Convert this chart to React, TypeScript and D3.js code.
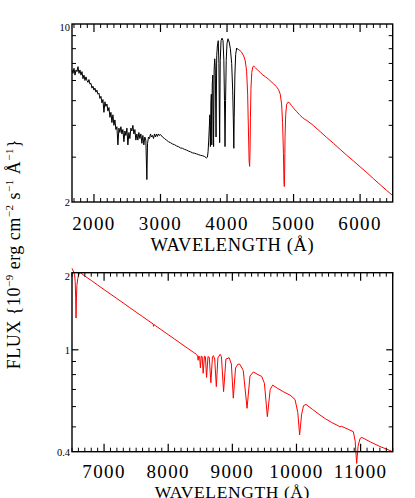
import React from "react";
import * as d3 from "d3";

// ---------- DATA ----------
// Observed UV/blue spectrum (black): [wavelength Å, flux 1e-9]
const observedSpectrum: [number, number][] = [
  [1670, 6.6], [1685, 6.4], [1700, 6.7], [1715, 6.3], [1730, 6.6], [1745, 6.5],
  [1760, 6.8], [1775, 6.4], [1790, 6.6], [1805, 6.3], [1820, 6.5], [1835, 6.1],
  [1850, 6.3], [1865, 6.0], [1880, 6.2], [1895, 6.0], [1910, 5.9], [1925, 6.05],
  [1940, 5.8], [1955, 5.85], [1970, 5.6], [1985, 5.7], [2000, 5.5], [2015, 5.6],
  [2030, 5.4], [2045, 5.5], [2060, 5.3], [2075, 5.35], [2090, 5.1], [2105, 5.2],
  [2120, 4.9], [2135, 5.05], [2150, 4.5], [2165, 4.95], [2180, 4.75], [2195, 4.85],
  [2210, 4.55], [2225, 4.7], [2240, 4.3], [2255, 4.5], [2270, 4.1], [2285, 4.4],
  [2300, 4.0], [2315, 4.2], [2330, 3.85], [2345, 3.95], [2360, 3.35], [2375, 3.9],
  [2390, 3.75], [2405, 3.95], [2420, 3.7], [2435, 3.85], [2450, 3.45], [2465, 3.8],
  [2480, 3.65], [2495, 3.9], [2510, 3.35], [2525, 3.75], [2540, 3.55], [2555, 3.9],
  [2570, 3.8], [2585, 4.0], [2600, 3.7], [2615, 3.85], [2630, 3.5], [2645, 3.7],
  [2660, 3.5], [2675, 3.75], [2690, 3.55], [2705, 3.7], [2720, 3.4], [2735, 3.65],
  [2750, 3.35], [2765, 3.6], [2780, 3.5], [2795, 2.45], [2805, 3.4], [2820, 3.6],
  [2835, 3.55], [2850, 3.7], [2865, 3.6], [2880, 3.65], [2895, 3.55], [2910, 3.7],
  [2925, 3.6], [2940, 3.7], [2955, 3.62], [2970, 3.7], [2985, 3.65], [3000, 3.68],
  [3030, 3.6], [3060, 3.55], [3090, 3.5], [3120, 3.45], [3150, 3.42], [3180, 3.38],
  [3210, 3.36], [3240, 3.32], [3270, 3.3], [3300, 3.26], [3330, 3.25], [3360, 3.22],
  [3390, 3.2], [3420, 3.17], [3450, 3.15], [3480, 3.12], [3510, 3.11], [3540, 3.09],
  [3570, 3.07], [3600, 3.05], [3630, 3.04], [3660, 3.02], [3690, 2.98], [3705, 3.0],
  [3715, 3.15], [3725, 3.5], [3735, 4.0], [3742, 4.4], [3750, 3.3], [3758, 4.9],
  [3764, 5.3], [3771, 3.35], [3778, 5.8], [3786, 6.3], [3798, 3.3], [3806, 6.6],
  [3815, 7.3], [3823, 6.8], [3835, 3.6], [3845, 7.5], [3855, 8.2], [3868, 8.6],
  [3878, 7.0], [3889, 3.42], [3898, 7.2], [3910, 8.6], [3925, 8.8], [3940, 8.6],
  [3952, 7.2], [3962, 5.0], [3970, 3.3], [3978, 5.0], [3988, 7.2], [4000, 8.4],
  [4015, 8.75], [4032, 8.5], [4050, 8.0], [4070, 7.0], [4085, 5.5], [4095, 4.2],
  [4102, 3.25], [4108, 4.3], [4118, 6.3], [4130, 7.6], [4145, 8.05], [4160, 7.95],
];

// Model spectrum, optical part (red, top panel)
const modelOptical: [number, number][] = [
  [4160, 7.95], [4180, 7.92], [4215, 7.78], [4250, 7.5], [4275, 7.15], [4295, 6.5],
  [4310, 5.3], [4322, 3.8], [4332, 2.9], [4340, 2.76], [4346, 3.2], [4352, 4.3],
  [4360, 5.6], [4372, 6.45], [4388, 6.78], [4400, 6.84], [4430, 6.72], [4470, 6.55],
  [4500, 6.45], [4540, 6.3], [4580, 6.2], [4620, 6.08], [4660, 5.95], [4700, 5.82],
  [4740, 5.68], [4775, 5.52], [4800, 5.3], [4820, 4.85], [4835, 4.1], [4848, 3.1],
  [4856, 2.4], [4861, 2.3], [4866, 2.6], [4872, 3.6], [4882, 4.4], [4895, 4.82],
  [4915, 4.93], [4935, 4.92], [4970, 4.78], [5010, 4.64], [5050, 4.52], [5090, 4.4],
  [5130, 4.3], [5170, 4.22], [5200, 4.18], [5300, 3.99], [5400, 3.78], [5500, 3.58],
  [5600, 3.4], [5700, 3.22], [5800, 3.05], [5900, 2.9], [6000, 2.75], [6100, 2.61],
  [6200, 2.47], [6300, 2.34], [6400, 2.22], [6490, 2.12],
];

// Model spectrum, red / near-IR part (red, bottom panel)
const modelNearIR: [number, number][] = [
  [6500, 2.08], [6520, 2.03], [6540, 1.96], [6550, 1.85], [6557, 1.6], [6563, 1.33],
  [6568, 1.55], [6576, 1.78], [6590, 1.9], [6610, 1.98], [6630, 2.0], [6700, 1.94],
  [6800, 1.866], [6900, 1.79], [7000, 1.718], [7100, 1.65], [7200, 1.585], [7300, 1.522],
  [7400, 1.461], [7500, 1.403], [7600, 1.348], [7700, 1.294], [7765, 1.262], [7772, 1.235],
  [7780, 1.255], [7800, 1.243], [7900, 1.194], [8000, 1.146], [8100, 1.101], [8200, 1.057],
  [8300, 1.015], [8400, 0.975], [8440, 0.96], [8458, 0.945], [8467, 0.91], [8476, 0.945],
  [8490, 0.94], [8502, 0.85], [8515, 0.945], [8530, 0.94], [8545, 0.81], [8565, 0.945],
  [8580, 0.94], [8598, 0.78], [8620, 0.94], [8640, 0.935], [8665, 0.744], [8690, 0.94],
  [8705, 0.948], [8725, 0.92], [8750, 0.718], [8775, 0.93], [8810, 0.96], [8830, 0.94],
  [8863, 0.686], [8900, 0.92], [8950, 0.931], [8985, 0.88], [9015, 0.647], [9050, 0.85],
  [9090, 0.88], [9119, 0.877], [9170, 0.83], [9229, 0.591], [9275, 0.79], [9327, 0.819],
  [9400, 0.8], [9458, 0.787], [9500, 0.74], [9546, 0.548], [9590, 0.7], [9629, 0.728],
  [9700, 0.708], [9800, 0.685], [9900, 0.665], [9977, 0.64], [10020, 0.57], [10049, 0.465],
  [10080, 0.56], [10110, 0.605], [10148, 0.612], [10250, 0.585], [10350, 0.56], [10450, 0.538],
  [10550, 0.52], [10650, 0.505], [10678, 0.5], [10700, 0.503], [10800, 0.49], [10886, 0.479],
  [10915, 0.44], [10938, 0.36], [10960, 0.42], [10990, 0.45], [11017, 0.455], [11150, 0.437],
  [11302, 0.419], [11400, 0.41], [11500, 0.4],
];

const topXDomain = [1670, 6490];
const topYDomain = [2, 10];
const topXMajor = [2000, 3000, 4000, 5000, 6000];
const topYLabels = [10, 2];
const topYMinor = [3, 4, 5, 6, 7, 8, 9];

const botXDomain = [6500, 11500];
const botYDomain = [0.4, 2];
const botXMajor = [7000, 8000, 9000, 10000, 11000];
const botYLabels = [2, 1, 0.4];
const botYMinor = [0.5, 0.6, 0.7, 0.8, 0.9];
const botYMajorInner = [1];

const xTitle = "WAVELENGTH (Å)";

// ---------- LAYOUT ----------
const W = 415;
const H = 498;
const L = 72;
const R = 392.7;
const FONT = "'Liberation Serif', 'Times New Roman', serif";

type PanelProps = {
  top: number;
  bottom: number;
  tickOffset: number;
  titleOffset: number;
  titleSize: number;
  xDomain: number[];
  yDomain: number[];
  xMajor: number[];
  yLabels: number[];
  yMinor: number[];
  yMajorInner: number[];
  series: { data: [number, number][]; color: string }[];
};

function Panel(p: PanelProps) {
  const x = d3.scaleLinear().domain(p.xDomain).range([L, R]);
  const y = d3.scaleLog().domain(p.yDomain).range([p.bottom, p.top]);
  const line = d3
    .line<[number, number]>()
    .x((d) => x(d[0]))
    .y((d) => y(d[1]));

  const minorX = d3
    .range(Math.ceil(p.xDomain[0] / 100) * 100, p.xDomain[1] + 1, 100)
    .filter((v) => !p.xMajor.includes(v));

  const majLen = 8;
  const minLen = 4;
  const tickLabelBaseline = p.bottom + p.tickOffset;
  const titleBaseline = p.bottom + p.titleOffset;

  return (
    <g>
      {p.series.map((s, i) => (
        <path
          key={i}
          d={line(s.data) || ""}
          fill="none"
          stroke={s.color}
          strokeWidth={1}
          strokeLinejoin="round"
        />
      ))}
      <rect
        x={L}
        y={p.top}
        width={R - L}
        height={p.bottom - p.top}
        fill="none"
        stroke="#000"
        strokeWidth={1.4}
      />
      {p.xMajor.map((v) => (
        <g key={"xm" + v}>
          <line x1={x(v)} x2={x(v)} y1={p.bottom} y2={p.bottom - majLen} stroke="#000" strokeWidth={1.2} />
          <line x1={x(v)} x2={x(v)} y1={p.top} y2={p.top + majLen} stroke="#000" strokeWidth={1.2} />
          <text
            x={x(v)}
            y={tickLabelBaseline}
            textAnchor="middle"
            fontFamily={FONT}
            fontSize={19}
            letterSpacing={1.4}
            fill="#000"
          >
            {String(v)}
          </text>
        </g>
      ))}
      {minorX.map((v) => (
        <g key={"xn" + v}>
          <line x1={x(v)} x2={x(v)} y1={p.bottom} y2={p.bottom - minLen} stroke="#000" strokeWidth={1} />
          <line x1={x(v)} x2={x(v)} y1={p.top} y2={p.top + minLen} stroke="#000" strokeWidth={1} />
        </g>
      ))}
      {p.yMinor.map((v) => (
        <g key={"yn" + v}>
          <line x1={L} x2={L + minLen} y1={y(v)} y2={y(v)} stroke="#000" strokeWidth={1} />
          <line x1={R} x2={R - minLen} y1={y(v)} y2={y(v)} stroke="#000" strokeWidth={1} />
        </g>
      ))}
      {p.yMajorInner.map((v) => (
        <g key={"yM" + v}>
          <line x1={L} x2={L + 6.5} y1={y(v)} y2={y(v)} stroke="#000" strokeWidth={1.2} />
          <line x1={R} x2={R - 6.5} y1={y(v)} y2={y(v)} stroke="#000" strokeWidth={1.2} />
        </g>
      ))}
      {p.yLabels.map((v) => {
        const yy = y(v);
        const base = yy >= p.top + 1 ? yy + 3.8 : yy + 7;
        return (
          <text
            key={"yl" + v}
            x={70}
            y={base}
            textAnchor="end"
            fontFamily={FONT}
            fontSize={10.5}
            fill="#000"
          >
            {String(v)}
          </text>
        );
      })}
      <text
        x={(L + R) / 2}
        y={titleBaseline}
        textAnchor="middle"
        fontFamily={FONT}
        fontSize={p.titleSize}
        letterSpacing={0.6}
        fill="#000"
      >
        {xTitle}
      </text>
    </g>
  );
}

export default function App() {
  const supSize = 11;
  return (
    <svg
      width={W}
      height={H}
      viewBox={`0 0 ${W} ${H}`}
      style={{ position: "absolute", left: 0, top: 0, display: "block", background: "#fff" }}
    >
      <rect x={0} y={0} width={W} height={H} fill="#fff" />
      <Panel
        top={24}
        bottom={202}
        tickOffset={27.5}
        titleOffset={48.5}
        titleSize={18.5}
        xDomain={topXDomain}
        yDomain={topYDomain}
        xMajor={topXMajor}
        yLabels={topYLabels}
        yMinor={topYMinor}
        yMajorInner={[]}
        series={[
          { data: observedSpectrum, color: "#000" },
          { data: modelOptical, color: "#ff0000" },
        ]}
      />
      <Panel
        top={272.7}
        bottom={451.7}
        tickOffset={26.3}
        titleOffset={46.5}
        titleSize={17.5}
        xDomain={botXDomain}
        yDomain={botYDomain}
        xMajor={botXMajor}
        yLabels={botYLabels}
        yMinor={botYMinor}
        yMajorInner={botYMajorInner}
        series={[{ data: modelNearIR, color: "#ff0000" }]}
      />
      <text
        transform="translate(20,254) rotate(-90)"
        textAnchor="middle"
        fontFamily={FONT}
        fontSize={18}
        letterSpacing={0.5}
        fill="#000"
      >
        <tspan>FLUX {"{"}10</tspan>
        <tspan fontSize={supSize} dy={-7}>−9</tspan>
        <tspan dy={7}> erg cm</tspan>
        <tspan fontSize={supSize} dy={-7}>−2</tspan>
        <tspan dy={7}> s</tspan>
        <tspan fontSize={supSize} dy={-7}>−1</tspan>
        <tspan dy={7}> Å</tspan>
        <tspan fontSize={supSize} dy={-7}>−1</tspan>
        <tspan dy={7}>{"}"}</tspan>
      </text>
    </svg>
  );
}
